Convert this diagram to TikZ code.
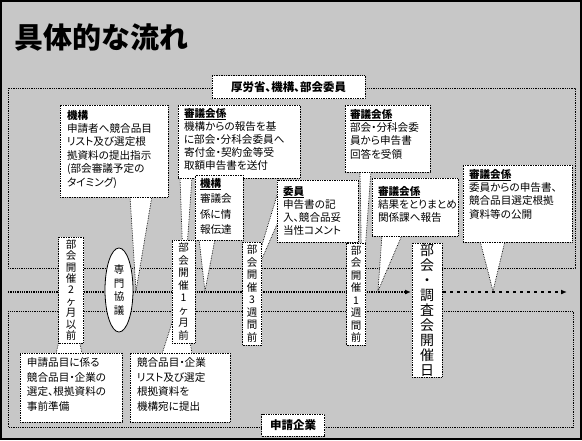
\documentclass[tikz,border=0pt]{standalone}
\usepackage{fontspec}
\setmainfont{Noto Sans CJK JP}[RawFeature=+palt]
\usetikzlibrary{arrows.meta,shapes.geometric}
\begin{document}
\begin{tikzpicture}[x=1pt,y=-1pt,
  every node/.style={inner sep=0pt, outer sep=0pt},
  bgfill/.style={fill=black!22},
  callbox/.style={draw=black, densely dotted, fill=white, line width=0.7pt, anchor=north west},
  wedgeshape/.style={draw=black, densely dotted, fill=white, line width=0.7pt, line join=round},
  bodytext/.style={anchor=north west, align=left, font=\fontsize{10.6}{13.4}\selectfont},
  colbox/.style={draw=black, densely dotted, fill=white, line width=0.7pt, anchor=north, align=center, font=\fontsize{10.5}{12.5}\selectfont},
  framebox/.style={draw=black, densely dotted, line width=0.8pt},
  labelbox/.style={draw=black, densely dotted, fill=white, line width=0.7pt, font=\fontsize{11.5}{13}\selectfont\bfseries},
  tline/.style={draw=black, densely dotted, line width=1.3pt},
  tipstyle/.style={-{Latex[length=6pt,width=5pt]}},
]
% background and slide border
\fill[bgfill] (0,0) rectangle (582,440);
\draw[black, line width=2pt] (1,1) rectangle (581,439);

% title
\node[anchor=west, font=\fontsize{29}{30}\selectfont\bfseries] (title) at (15,37) {具体的な流れ};

% frames
\draw[framebox] (8,88) rectangle (575,268);
\draw[framebox] (8,311) rectangle (573,427);

% timeline
\coordinate (tlA) at (8,292);
\coordinate (tlB) at (411,292);
\coordinate (tlC) at (443,292);
\coordinate (tlD) at (567,292);
\draw[tline, tipstyle] (tlA) -- (tlB);
\draw[draw=black, dash pattern=on 3pt off 4pt, line width=1.3pt, tipstyle] (tlC) -- (tlD);

% wedges of callouts
\coordinate (t1) at (136,291);
\coordinate (t2) at (184,291);
\coordinate (t4) at (205,291);
\coordinate (t5) at (248,291);
\coordinate (t3) at (362,291);
\coordinate (t6) at (378,291);
\coordinate (t7) at (493,291);
\coordinate (t8) at (70,292);
\coordinate (t9) at (182,292);
\filldraw[wedgeshape] (130,196) -- (t1) -- (152,196) -- cycle;
\filldraw[wedgeshape] (180,177) -- (t2) -- (192,177) -- cycle;
\filldraw[wedgeshape] (199,239) -- (t4) -- (215,239) -- cycle;
\filldraw[wedgeshape] (278,192) -- (t5) -- (278,222) -- cycle;
\filldraw[wedgeshape] (360,171) -- (t3) -- (371,171) -- cycle;
\filldraw[wedgeshape] (382,235) -- (t6) -- (402,235) -- cycle;
\filldraw[wedgeshape] (480,241) -- (t7) -- (505,241) -- cycle;
\filldraw[wedgeshape] (56,354) -- (t8) -- (82,354) -- cycle;
\filldraw[wedgeshape] (162,354) -- (t9) -- (192,354) -- cycle;

% upper callout boxes
\node[callbox, minimum width=108pt, minimum height=92pt] (b1) at (60,105) {};
\node[bodytext] (b1t) at (67,110) {\textbf{機構}\\申請者へ競合品目\\リスト及び選定根\\拠資料の提出指示\\(部会審議予定の\\タイミング)};

\node[callbox, minimum width=122pt, minimum height=73pt] (b2) at (178,105) {};
\node[bodytext, font=\fontsize{10.6}{13}\selectfont] (b2t) at (184,108) {\underline{\textbf{審議会係}}\\機構からの報告を基\\に部会・分科会委員へ\\寄付金・契約金等受\\取額申告書を送付};

\node[callbox, minimum width=85pt, minimum height=67pt] (b3) at (345,105) {};
\node[bodytext] (b3t) at (350,109) {\underline{\textbf{審議会係}}\\部会・分科会委\\員から申告書\\回答を受領};

\node[callbox, minimum width=48pt, minimum height=65pt] (b4) at (195,175) {};
\node[bodytext, font=\fontsize{10.6}{15.5}\selectfont] (b4t) at (200,178) {\underline{\textbf{機構}}\\審議会\\係に情\\報伝達};

\node[callbox, minimum width=81pt, minimum height=62pt] (b5) at (277,180) {};
\node[bodytext, font=\fontsize{10.6}{13}\selectfont] (b5t) at (283,186) {\underline{\textbf{委員}}\\申告書の記\\入、競合品妥\\当性コメント};

\node[callbox, minimum width=86pt, minimum height=58pt] (b6) at (372,178) {};
\node[bodytext, font=\fontsize{10.6}{13}\selectfont] (b6t) at (378,186) {\underline{\textbf{審議会係}}\\結果をとりまとめ\\関係課へ報告};

\node[callbox, minimum width=109pt, minimum height=77pt] (b7) at (463,165) {};
\node[bodytext] (b7t) at (469,169) {\underline{\textbf{審議会係}}\\委員からの申告書、\\競合品目選定根拠\\資料等の公開};

% lower boxes
\node[callbox, minimum width=102pt, minimum height=69pt] (b8) at (20,353) {};
\node[bodytext, font=\fontsize{10.6}{14.5}\selectfont] (b8t) at (27,358) {申請品目に係る\\競合品目・企業の\\選定、根拠資料の\\事前準備};

\node[callbox, minimum width=100pt, minimum height=69pt] (b9) at (130,353) {};
\node[bodytext, font=\fontsize{10.6}{14.5}\selectfont] (b9t) at (137,358) {競合品目・企業\\リスト及び選定\\根拠資料を\\機構宛に提出};

% vertical time labels
\node[colbox, minimum width=25pt, minimum height=106pt, font=\fontsize{10.5}{11.4}\selectfont] (cA) at (71,237) {部\\会\\開\\催\\2\\ヶ\\月\\以\\前};
\node[draw=black, line width=0.8pt, fill=white, ellipse, minimum width=28pt, minimum height=84pt, align=center, font=\fontsize{10.5}{13.5}\selectfont] (ex) at (119,290) {専\\門\\協\\議};
\node[colbox, minimum width=23pt, minimum height=103pt] (cB) at (183.5,240) {部\\会\\開\\催\\1\\ヶ\\月\\前};
\node[colbox, minimum width=19pt, minimum height=103pt] (cC) at (252,242) {部\\会\\開\\催\\3\\週\\間\\前};
\node[colbox, minimum width=19pt, minimum height=102pt] (cD) at (356,243) {部\\会\\開\\催\\1\\週\\間\\前};
\node[colbox, minimum width=30pt, minimum height=134pt, font=\fontsize{14}{15}\selectfont] (cE) at (427,243) {部\\会\\・\\調\\査\\会\\開\\催\\日};

% frame labels
\node[labelbox, minimum width=153pt, minimum height=23pt] (topl) at (288.5,87) {厚労省、機構、部会委員};
\node[labelbox, minimum width=63pt, minimum height=22pt] (botl) at (293,425) {申請企業};
\end{tikzpicture}
\end{document}
